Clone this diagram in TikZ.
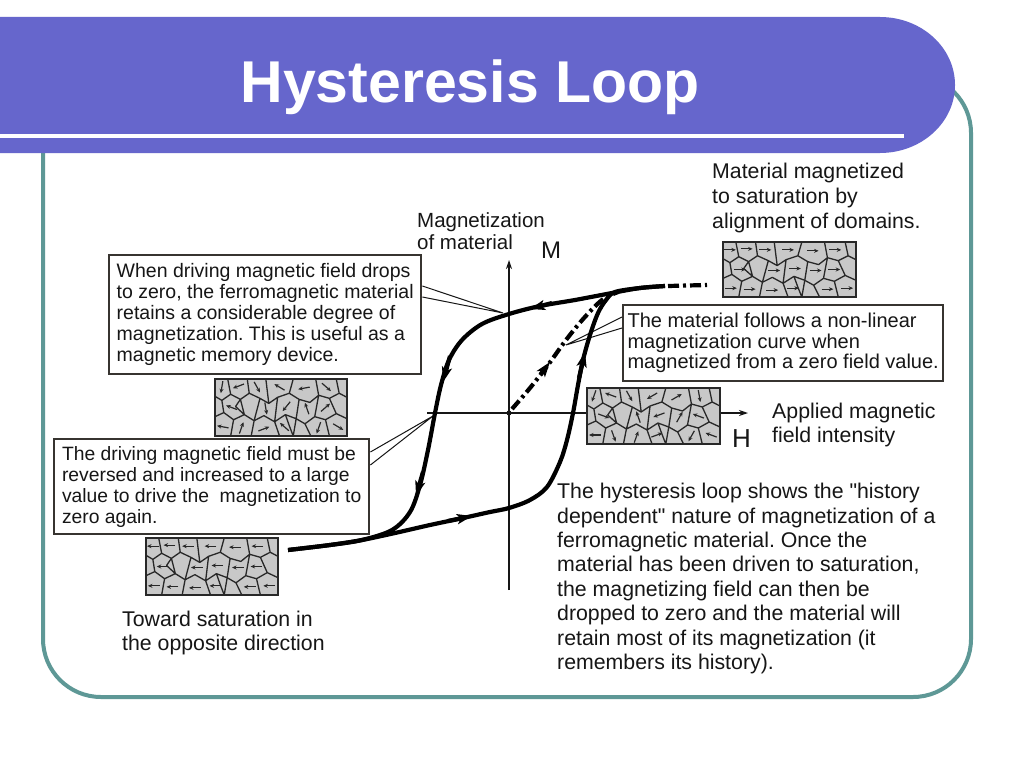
\documentclass[tikz,border=0pt]{standalone}
\usepackage{fontspec}
\setmainfont{Liberation Sans}[Ligatures=TeXOff]
\usetikzlibrary{arrows.meta}
\definecolor{banner}{RGB}{102,102,204}
\definecolor{frameteal}{RGB}{94,152,150}
\definecolor{domfill}{RGB}{200,200,200}
\definecolor{domline}{RGB}{40,40,40}
\definecolor{ink}{RGB}{22,22,22}
\definecolor{boxline}{RGB}{55,52,48}
\frenchspacing

\newcommand\domainpic[5]{%
 \begin{scope}[shift={(#1,#2)},xscale=#3/135,yscale=#4/56]
  \fill[domfill] (0,0) rectangle (135,56);
  \draw[domnet]
   (0,17) -- (7,21) -- (16,15) -- (26,20) -- (35,14) -- (46,19) -- (55,24) -- (64,18) -- (76,14) -- (86,20) -- (97,23) -- (106,16) -- (117,19) -- (127,14) -- (135,18)
   (0,37) -- (9,33) -- (19,40) -- (30,35) -- (40,41) -- (50,36) -- (61,42) -- (72,35) -- (83,39) -- (92,44) -- (102,37) -- (113,40) -- (124,34) -- (135,39)
   (13,0) -- (16,15) (33,0) -- (35,14) (52,0) -- (55,24) (80,0) -- (76,14) (103,0) -- (106,16) (124,0) -- (127,14)
   (7,21) -- (9,33) (26,20) -- (30,35) (46,19) -- (40,41) (64,18) -- (61,42) (86,20) -- (83,39) (106,16) -- (102,37) (117,19) -- (124,34)
   (19,40) -- (16,56) (40,41) -- (37,56) (61,42) -- (66,56) (83,39) -- (80,56) (92,44) -- (98,56) (113,40) -- (117,56)
   (72,35) -- (76,46) -- (80,56) (26,20) -- (21,27) -- (30,35);
  \foreach \cx/\cy [count=\i from 0] in {7/8,24/7,43/8,66/8,91/9,114/8,17/28,52/29,73/27,94/29,113/28,8/47,27/48,50/49,71/47,106/48,126/47}{%
    \pgfmathsetmacro\ang{{#5}[\i]}%
    \draw[domarrow] (\cx,\cy) ++(\ang+180:6) -- ++(\ang:12);
  }
  \draw[dombox] (0,0) rectangle (135,56);
 \end{scope}}

\begin{document}
\begin{tikzpicture}[x=1pt,y=-1pt,
  txt/.style={inner sep=0pt, text=ink, align=left},
  callbox/.style={draw=boxline, line width=2.4pt, fill=white, inner sep=0pt, align=left, text=ink},
  wedge/.style={draw=ink, line width=1pt},
  axis/.style={draw=ink, line width=1.4pt, -{Stealth[length=9pt,width=6pt]}},
  loopline/.style={line width=4.2pt, line join=round},
  loophead/.style={line width=4.2pt, -{Stealth[length=15pt,width=10pt,inset=3.5pt]}},
  dashdot/.style={line width=4.2pt, dash pattern=on 11pt off 4pt on 3pt off 4pt},
  domnet/.style={draw=domline, line width=1.3pt, line join=round},
  domarrow/.style={draw=domline, line width=1.2pt, -{Stealth[length=4.5pt,width=4pt]}},
  dombox/.style={draw=domline, line width=1.8pt},
]
\useasboundingbox (0,0) rectangle (1024,768);
\fill[white] (0,0) rectangle (1024,768);

% frame and banner
\draw[frameteal, line width=4pt, rounded corners=58pt] (43,75) rectangle (971,697);
\fill[banner] (0,17) -- (880,17) arc[start angle=-90, end angle=90, x radius=75, y radius=68] -- (0,153) -- cycle;
\draw[white, line width=4.5pt] (0,136) -- (904,136);
\node[anchor=base, inner sep=0pt, text=white, font=\bfseries\fontsize{59}{60}\selectfont] (title) at (470,102) {Hysteresis Loop};

% axes
\draw[axis] (509,590) -- (509,260);
\draw[axis] (427,413) -- (748,413);
\fill[ink] (509,413) circle (2.5);

% domain pictures
\domainpic{723}{242}{133}{55}{0,0,0,0,0,0,0,0,0,0,0,0,0,0,0,0,0}
\domainpic{587}{388}{133}{56}{110,200,60,150,330,80,20,250,160,300,200,180,70,290,340,120,200}
\domainpic{215}{379}{132}{57}{100,160,60,210,170,40,200,80,130,250,320,190,290,340,220,110,30}
\domainpic{146}{538}{132}{57}{180,180,180,180,180,180,180,180,180,180,180,180,180,180,180,180,180}

% boxes
\node[callbox, anchor=north west, minimum width=312pt, minimum height=119pt, font=\fontsize{19.5}{21}\selectfont] (box1) at (108,254)
  {When driving magnetic field drops\\to zero, the ferromagnetic material\\retains a considerable degree of\\magnetization. This is useful as a\\magnetic memory device.};
\node[callbox, anchor=north west, minimum width=315pt, minimum height=95pt, font=\fontsize{19.3}{21}\selectfont] (box2) at (53,438)
  {The driving magnetic field must be\\reversed and increased to a large\\value to drive the\ \ magnetization to\\zero again.};
\node[callbox, anchor=north west, minimum width=320pt, minimum height=76pt, font=\fontsize{20}{20.5}\selectfont] (box3) at (622,304)
  {The material follows a non-linear\\magnetization curve when\\magnetized from a zero field value.};

% callout wedges
\coordinate (tip1) at (503,313);
\coordinate (tip2) at (433,416);
\coordinate (tip3) at (566,345);
\draw[wedge] ([yshift=-32pt]box1.north east) -- (tip1) -- ([yshift=-43pt]box1.north east);
\draw[wedge] ([yshift=-14pt]box2.north east) -- (tip2) -- ([yshift=-27pt]box2.north east);
\draw[wedge] ([yshift=-13pt]box3.north west) -- (tip3) -- ([yshift=-24pt]box3.north west);

% hysteresis loop
\draw[loopline] plot[smooth, tension=0.55] coordinates {(665,286) (640,288) (612,293) (575,300) (540,306) (509,314) (482,324) (462,340) (449,360) (441,385) (435,413) (428,450) (420,485) (410,512) (392,530) (362,540) (330,545) (288,550)};
\draw[loopline] plot[smooth, tension=0.55] coordinates {(288,550) (330,545) (362,540) (395,533) (430,525) (463,518) (490,512) (509,508) (530,500) (547,487) (560,462) (567,440) (573,413) (578,385) (583,360) (590,335) (598,313) (606,300) (615,292) (640,288) (665,286)};
\draw[dashdot] plot[smooth, tension=0.55] coordinates {(512,409) (530,388) (548,365) (566,340) (584,318) (602,300) (618,292)};
\draw[dashdot] (668,286) -- (707,285);

% arrowheads on the loop
\draw[loophead] (552,303) -- (530,309);
\draw[loophead] (450,356) -- (443,382);
\draw[loophead] (423,472) -- (416,496);
\draw[loophead] (448,521) -- (472,516);
\draw[loophead] (579,378) -- (585,352);
\draw[loophead] (540.5,374.5) -- (550,362);

% labels
\node[txt, anchor=north west, font=\fontsize{21.3}{24.8}\selectfont] (sat) at (712,163) {Material magnetized\\to saturation by\\alignment of domains.};
\node[txt, anchor=north west, font=\fontsize{20.5}{22.5}\selectfont] (mag) at (417,212) {Magnetization\\of material};
\node[txt, anchor=base west, font=\fontsize{24}{26}\selectfont] (Mlabel) at (541,258) {M};
\node[txt, anchor=north west, font=\fontsize{21.3}{24}\selectfont] (appl) at (772,403) {Applied magnetic\\field intensity};
\node[txt, anchor=base west, font=\fontsize{26}{28}\selectfont] (Hlabel) at (732,447) {H};
\node[txt, anchor=north west, font=\fontsize{21.3}{24}\selectfont] (toward) at (122,611) {Toward saturation in\\the opposite direction};
\node[txt, anchor=north west, font=\fontsize{21.3}{24.45}\selectfont] (para) at (557,483)
  {The hysteresis loop shows the "history\\dependent" nature of magnetization of a\\ferromagnetic material. Once the\\material has been driven to saturation,\\the magnetizing field can then be\\dropped to zero and the material will\\retain most of its magnetization (it\\remembers its history).};
\end{tikzpicture}
\end{document}
